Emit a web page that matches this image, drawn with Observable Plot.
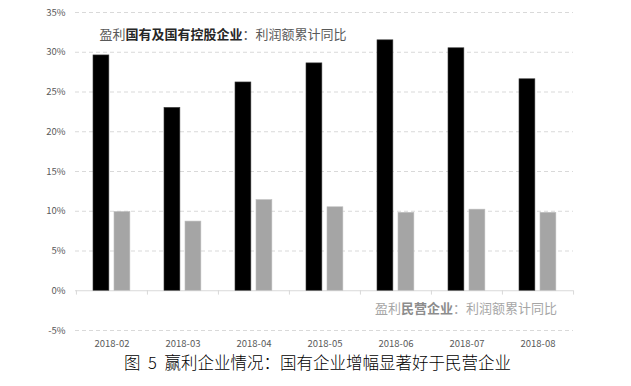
<!DOCTYPE html>
<html><head><meta charset="utf-8">
<script src="https://cdn.jsdelivr.net/npm/d3@7"></script>
<script src="https://cdn.jsdelivr.net/npm/@observablehq/plot@0.6"></script>
<style>
body{margin:0;background:#fff;font-family:"Noto Sans CJK SC",sans-serif;}
#chart svg{display:block;}
#cap{width:631px;height:34px;text-align:center;font-size:16.5px;line-height:20px;color:#000;font-family:"Noto Sans CJK SC",sans-serif;font-weight:300;word-spacing:4px;padding-left:4px;box-sizing:border-box;}
</style></head>
<body>
<div id="chart"></div>
<div id="cap">图 5 赢利企业情况：国有企业增幅显著好于民营企业</div>
<script>
const months = ["2018-02","2018-03","2018-04","2018-05","2018-06","2018-07","2018-08"];
const soe = [29.6, 23.0, 26.2, 28.6, 31.5, 30.5, 26.6];
const pvt = [9.9, 8.7, 11.4, 10.5, 9.8, 10.2, 9.8];
const yTicks = [-5, 0, 5, 10, 15, 20, 25, 30, 35];
const label1 = "盈利国有及国有控股企业：利润额累计同比";
const label2 = "盈利民营企业：利润额累计同比";

const W = 631, H = 352, mL = 75, mR = 58;
const bw = (W - mL - mR) / months.length;
const soeData = months.map((m, i) => ({m, v: soe[i]}));
const pvtData = months.map((m, i) => ({m, v: pvt[i]}));

const chart = Plot.plot({
  width: W, height: H,
  marginLeft: mL, marginRight: mR, marginTop: 12, marginBottom: 22,
  style: {fontFamily: '"Noto Sans CJK SC", sans-serif', fontSize: "9.5px", color: "#595959", background: "#fff"},
  x: {type: "band", domain: months, padding: 0, label: null},
  y: {domain: [-5, 35], label: null},
  marks: [
    Plot.ruleY(yTicks.filter(d => d !== 0), {stroke: "#d9d9d9", strokeDasharray: "4,3", strokeWidth: 1}),
    Plot.ruleY([0], {stroke: "#d9d9d9", strokeWidth: 1}),
    Plot.ruleX(months, {x: d => d, y1: 0, y2: -0.55, dx: -bw / 2, stroke: "#d9d9d9"}),
    Plot.ruleX([months[months.length - 1]], {x: d => d, y1: 0, y2: -0.55, dx: bw / 2, stroke: "#d9d9d9"}),
    Plot.barY(soeData, {x: "m", y: "v", fill: "#000", stroke: "#3a3a3a", strokeWidth: 0.6, insetLeft: 17, insetRight: bw - 33}),
    Plot.barY(pvtData, {x: "m", y: "v", fill: "#a5a5a5", stroke: "#bdbdbd", strokeWidth: 0.6, insetLeft: 38, insetRight: bw - 54}),
    Plot.axisY(yTicks, {tickSize: 0, tickPadding: 10, tickFormat: d => d + "%", fill: "#595959"}),
    Plot.axisX(months, {tickSize: 0, tickPadding: 10, fill: "#595959"}),
    Plot.text([label1], {x: () => months[0], y: () => 32.2, text: d => d, textAnchor: "start", dx: -12.5, fontSize: 13, fill: "#404040"}),
    Plot.text([label2], {x: () => months[4], y: () => -2.3, text: d => d, textAnchor: "start", dx: -21, fontSize: 13, fill: "#a0a0a0"})
  ]
});
document.getElementById("chart").appendChild(chart);

// mixed-weight styling of the annotation texts
function styleLabel(full, boldPart, color, boldColor) {
  d3.select(chart).selectAll("text").each(function() {
    if (this.textContent === full) {
      const i = full.indexOf(boldPart);
      const parts = [[full.slice(0, i), 400, color], [boldPart, 700, boldColor], [full.slice(i + boldPart.length), 400, color]];
      const sel = d3.select(this);
      sel.text(null);
      parts.forEach(([t, w, c]) => sel.append("tspan").text(t).attr("font-weight", w).attr("fill", c));
    }
  });
}
styleLabel(label1, "国有及国有控股企业", "#595959", "#262626");
styleLabel(label2, "民营企业", "#a6a6a6", "#8c8c8c");
</script>
</body></html>
